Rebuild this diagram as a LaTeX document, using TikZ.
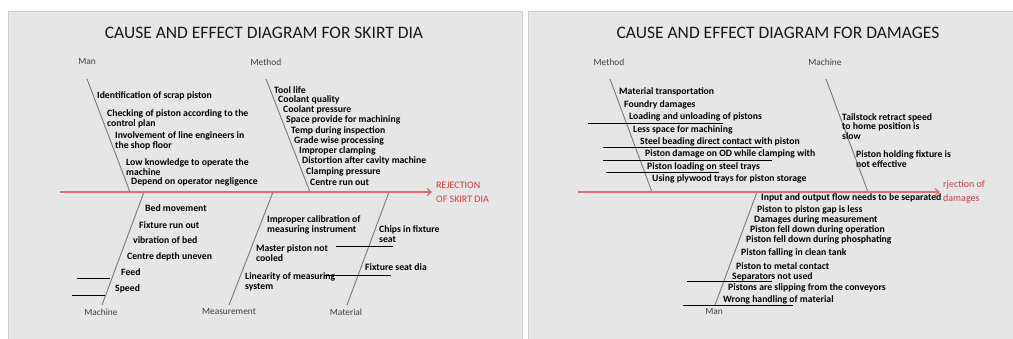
\documentclass[tikz,border=0pt]{standalone}
\usepackage{fontspec}
\setmainfont{Carlito}
\usetikzlibrary{arrows.meta}
\definecolor{panelfill}{HTML}{E6E6E6}
\definecolor{paneledge}{HTML}{CDCDCD}
\definecolor{bonegray}{HTML}{7A7A7A}
\definecolor{spinered}{HTML}{E46C6C}
\definecolor{effectred}{HTML}{D8393B}
\tikzset{
  panel/.style={fill=panelfill, draw=paneledge, line width=1pt},
  heading/.style={inner sep=0pt, text=black!90, font=\fontsize{17.5}{20}\selectfont},
  category/.style={inner sep=0pt, text=black!75, font=\fontsize{9.4}{11}\selectfont},
  cause/.style={anchor=west, inner sep=0pt, align=left, font=\bfseries\fontsize{9.7}{9.8}\selectfont},
  effect/.style={anchor=west, inner sep=0pt, align=left, text=effectred, font=\fontsize{10}{14}\selectfont},
  bone/.style={draw=bonegray, line width=0.9pt},
  spine/.style={draw=spinered, line width=1.2pt, -{Straight Barb[length=4pt,width=7pt]}},
  subrule/.style={draw=black, line width=0.8pt}
}
\begin{document}
\begin{tikzpicture}[x=1pt,y=-1pt]
    \useasboundingbox (0,0) rectangle (1013,338);
    \clip (0,0) rectangle (1013,338);
    \fill[white] (0,0) rectangle (1013,338);

    \draw[panel] (8,11)   rectangle (522,345);
    \draw[panel] (528,11) rectangle (1025,345);

    \node[heading] (titleskirt) at (264,33) {CAUSE AND EFFECT DIAGRAM FOR SKIRT DIA};

    \node[category] (manskirt)     at (87,62)   {Man};
    \node[category] (methodskirt)  at (266,62)  {Method};
    \node[category] (machineskirt) at (101,312) {Machine};
    \node[category] (measureskirt) at (229,312) {Measurement};
    \node[category] (materialskirt) at (346,312) {Material};

    \coordinate (spineskirtA) at (60,192);
    \coordinate (spineskirtB) at (432,192);
    \coordinate (manskirtA)      at (87,79);   \coordinate (manskirtB)      at (130,192);
    \coordinate (methodskirtA)   at (266,79);  \coordinate (methodskirtB)   at (310,192);
    \coordinate (machineskirtA)  at (144,192); \coordinate (machineskirtB)  at (102,305);
    \coordinate (measureskirtA)  at (273,192); \coordinate (measureskirtB)  at (229,305);
    \coordinate (materialskirtA) at (389,192); \coordinate (materialskirtB) at (347,305);

    \draw[bone] (manskirtA)      -- (manskirtB);
    \draw[bone] (methodskirtA)   -- (methodskirtB);
    \draw[bone] (machineskirtA)  -- (machineskirtB);
    \draw[bone] (measureskirtA)  -- (measureskirtB);
    \draw[bone] (materialskirtA) -- (materialskirtB);
    \draw[spine] (spineskirtA) -- (spineskirtB);

    \node[effect] (effectskirt) at (436,192) {REJECTION\\OF SKIRT DIA};

    \node[cause] (mana) at (97,96)   {Identification of scrap piston};
    \node[cause] (manb) at (107,119) {Checking of piston according to the\\control plan};
    \node[cause] (manc) at (115,140.5) {Involvement of line engineers in\\the shop floor};
    \node[cause] (mand) at (126,167) {Low knowledge to operate the\\machine};
    \node[cause] (mane) at (131,182) {Depend on operator negligence};

    \node[cause] (metha) at (274,90)  {Tool life};
    \node[cause] (methb) at (278,100) {Coolant quality};
    \node[cause] (methc) at (283,110) {Coolant pressure};
    \node[cause] (methd) at (286,120) {Space provide for machining};
    \node[cause] (methe) at (291,131) {Temp during inspection};
    \node[cause] (methf) at (294,141) {Grade wise processing};
    \node[cause] (methg) at (299,151) {Improper clamping};
    \node[cause] (methh) at (302,161) {Distortion after cavity machine};
    \node[cause] (methi) at (306,172) {Clamping pressure};
    \node[cause] (methj) at (310,182) {Centre run out};

    \node[cause] (macha) at (145,208) {Bed movement};
    \node[cause] (machb) at (139,225) {Fixture run out};
    \node[cause] (machc) at (133,240) {vibration of bed};
    \node[cause] (machd) at (127,257) {Centre depth uneven};
    \node[cause] (mache) at (121,272) {Feed};
    \node[cause] (machf) at (115,289) {Speed};

    \node[cause] (meaa) at (267,225) {Improper calibration of\\measuring instrument};
    \node[cause] (meab) at (256,253) {Master piston not\\cooled};
    \node[cause] (meac) at (245,281.5) {Linearity of measuring\\system};

    \node[cause] (mata) at (379,234.5) {Chips in fixture\\seat};
    \node[cause] (matb) at (365,267) {Fixture seat dia};

    \coordinate (feedA)  at (77,278);  \coordinate (feedB)  at (110,278);
    \coordinate (speedA) at (72,295);  \coordinate (speedB) at (105,295);
    \coordinate (chipsA) at (336,246); \coordinate (chipsB) at (393,246);
    \coordinate (seatA)  at (325,275); \coordinate (seatB)  at (391,275);
    \draw[subrule] (feedA)  -- (feedB);
    \draw[subrule] (speedA) -- (speedB);
    \draw[subrule] (chipsA) -- (chipsB);
    \draw[subrule] (seatA)  -- (seatB);

    \node[heading] (titledamage) at (778,33) {CAUSE AND EFFECT DIAGRAM FOR DAMAGES};

    \node[category] (methoddamage)  at (609,62)  {Method};
    \node[category] (machinedamage) at (825,62)  {Machine};
    \node[category] (mandamage)     at (714,312) {Man};

    \coordinate (spinedamageA) at (578,192);
    \coordinate (spinedamageB) at (940,192);
    \coordinate (methoddamageA)  at (610,79);  \coordinate (methoddamageB)  at (652,192);
    \coordinate (machinedamageA) at (826,79);  \coordinate (machinedamageB) at (868,192);
    \coordinate (mandamageA)     at (757,192); \coordinate (mandamageB)     at (715,305);

    \draw[bone] (methoddamageA)  -- (methoddamageB);
    \draw[bone] (machinedamageA) -- (machinedamageB);
    \draw[bone] (mandamageA)     -- (mandamageB);
    \draw[spine] (spinedamageA) -- (spinedamageB);

    \node[effect] (effectdamage) at (943,192) {rjection of\\damages};

    \node[cause] (dmetha) at (619,92)  {Material transportation};
    \node[cause] (dmethb) at (624,105) {Foundry damages};
    \node[cause] (dmethc) at (629,117) {Loading and unloading of pistons};
    \node[cause] (dmethd) at (633,130) {Less space for machining};
    \node[cause] (dmethe) at (640,142) {Steel beading direct contact with piston};
    \node[cause] (dmethf) at (645,154) {Piston damage on OD while clamping with};
    \node[cause] (dmethg) at (647,167) {Piston loading on steel trays};
    \node[cause] (dmethh) at (652,179) {Using plywood trays for piston storage};

    \node[cause] (dmacha) at (842,126.5) {Tailstock retract speed\\to home position is\\slow};
    \node[cause] (dmachb) at (856,159)   {Piston holding fixture is\\not effective};

    \node[cause] (dmana) at (761,198) {Input and output flow needs to be separated};
    \node[cause] (dmanb) at (757,210) {Piston to piston gap is less};
    \node[cause] (dmanc) at (754,220) {Damages during measurement};
    \node[cause] (dmand) at (750,230) {Piston fell down during operation};
    \node[cause] (dmane) at (746,240) {Piston fell down during phosphating};
    \node[cause] (dmanf) at (741,253) {Piston falling in clean tank};
    \node[cause] (dmang) at (736,266) {Piston to metal contact};
    \node[cause] (dmanh) at (732,277) {Separators not used};
    \node[cause] (dmani) at (728,288) {Pistons are slipping from the conveyors};
    \node[cause] (dmanj) at (723,300) {Wrong handling of material};

    \coordinate (loadA)   at (588,123); \coordinate (loadB)   at (723,123);
    \coordinate (beadA)   at (603,147); \coordinate (beadB)   at (762,147);
    \coordinate (clampA)  at (603,160); \coordinate (clampB)  at (772,160);
    \coordinate (trayA)   at (606,172); \coordinate (trayB)   at (719,172);
    \coordinate (sepA)    at (687,281); \coordinate (sepB)    at (772,281);
    \coordinate (handleA) at (683,305); \coordinate (handleB) at (793,305);
    \draw[subrule] (loadA)   -- (loadB);
    \draw[subrule] (beadA)   -- (beadB);
    \draw[subrule] (clampA)  -- (clampB);
    \draw[subrule] (trayA)   -- (trayB);
    \draw[subrule] (sepA)    -- (sepB);
    \draw[subrule] (handleA) -- (handleB);
\end{tikzpicture}
\end{document}
